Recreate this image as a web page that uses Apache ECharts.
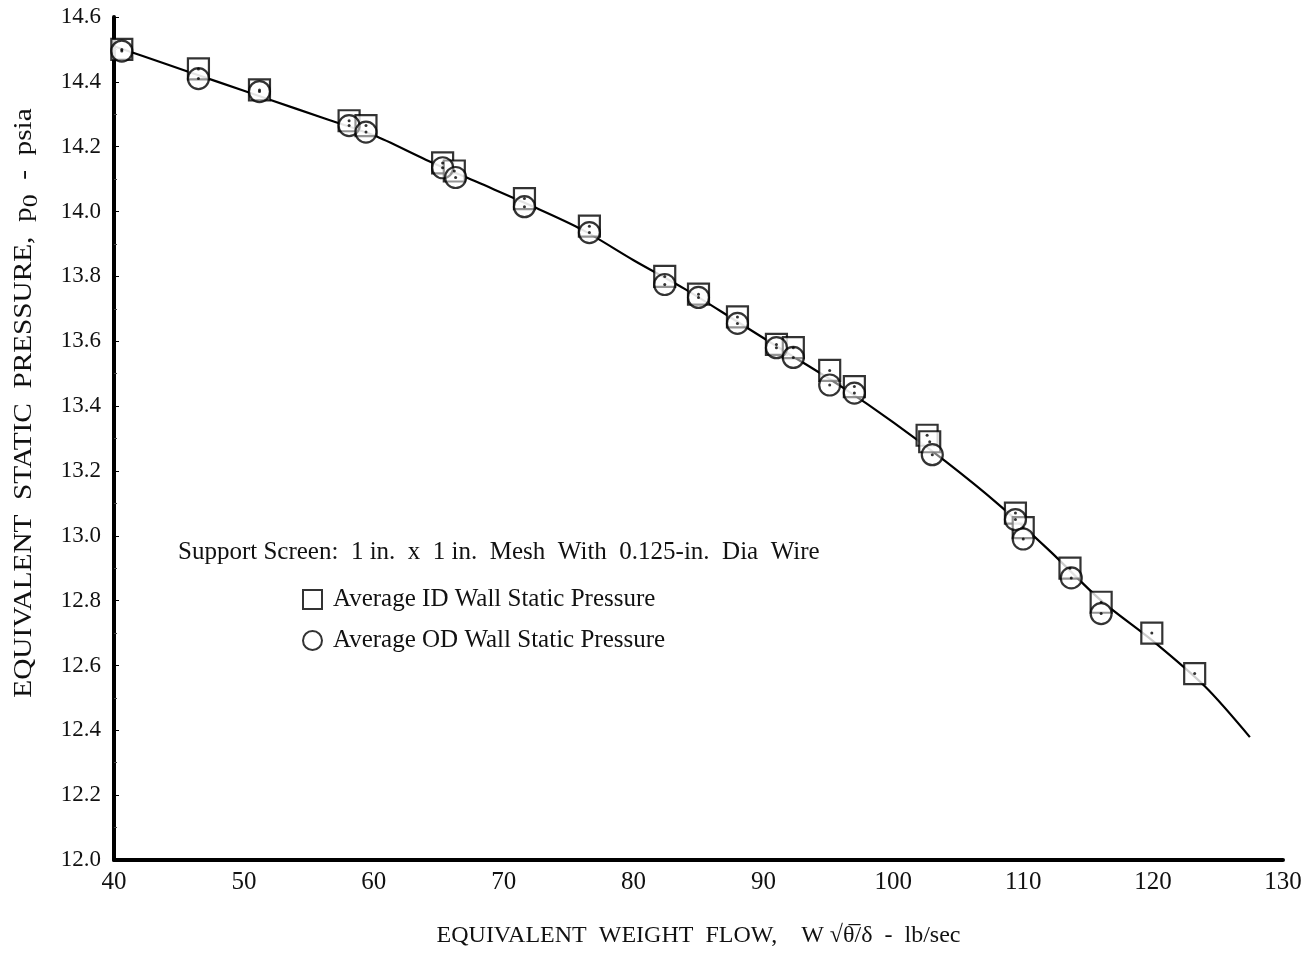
<!DOCTYPE html>
<html>
<head>
<meta charset="utf-8">
<script src="https://cdn.jsdelivr.net/npm/echarts@6/dist/echarts.min.js"></script>
<style>
  html, body { margin: 0; padding: 0; background: #fff; }
  #chart { width: 1310px; height: 954px; }
</style>
</head>
<body>
<div id="chart"></div>
<script>
// Equivalent weight flow (lb/sec) for each test point
const flowID = [40.6, 46.5, 51.2, 58.1, 59.4, 65.3, 66.2, 71.6, 76.6, 82.4, 85.0, 88.0, 91.0, 92.3, 95.1, 97.0, 102.6, 102.8, 109.4, 110.0, 113.6, 116.0, 119.9, 123.2];
// Average ID wall static pressure (psia)
const pressID = [14.50, 14.44, 14.375, 14.28, 14.265, 14.15, 14.125, 14.04, 13.955, 13.80, 13.745, 13.675, 13.59, 13.58, 13.51, 13.46, 13.31, 13.29, 13.07, 13.025, 12.90, 12.795, 12.70, 12.575];

const flowOD = [40.6, 46.5, 51.2, 58.1, 59.4, 65.3, 66.3, 71.6, 76.6, 82.4, 85.0, 88.0, 91.0, 92.3, 95.1, 97.0, 103.0, 109.4, 110.0, 113.7, 116.0];
// Average OD wall static pressure (psia)
const pressOD = [14.495, 14.41, 14.37, 14.265, 14.245, 14.135, 14.105, 14.015, 13.935, 13.775, 13.735, 13.655, 13.58, 13.55, 13.465, 13.44, 13.25, 13.05, 12.99, 12.87, 12.76];

// Faired curve through the data, read every 4 lb/sec
const curveFlow = [40, 44, 48, 52, 56, 60, 64, 68, 72, 76, 80, 84, 88, 92, 96, 100, 104, 108, 112, 116, 120, 124, 127.45];
const curvePress = [14.51, 14.455, 14.40, 14.345, 14.29, 14.235, 14.16, 14.09, 14.02, 13.945, 13.85, 13.76, 13.66, 13.56, 13.46, 13.35, 13.23, 13.10, 12.955, 12.80, 12.675, 12.535, 12.379];

const xTicks = [40, 50, 60, 70, 80, 90, 100, 110, 120, 130];
const yTicks = [12.0, 12.2, 12.4, 12.6, 12.8, 13.0, 13.2, 13.4, 13.6, 13.8, 14.0, 14.2, 14.4, 14.6];

const legendTitle = 'Support Screen:  1 in.  x  1 in.  Mesh  With  0.125-in.  Dia  Wire';
const nameID = 'Average ID Wall Static Pressure';
const nameOD = 'Average OD Wall Static Pressure';

const FONT = '"Liberation Serif", "DejaVu Serif", serif';

const zip = (a, b) => a.map((v, i) => [v, b[i]]);

const chart = echarts.init(document.getElementById('chart'), null, { renderer: 'canvas' });

chart.setOption({
  backgroundColor: '#ffffff',
  animation: false,
  textStyle: { fontFamily: FONT, color: '#111' },
  grid: { left: 114, right: 27, top: 17, bottom: 94, containLabel: false },
  xAxis: {
    type: 'value',
    min: xTicks[0],
    max: xTicks[xTicks.length - 1],
    interval: 10,
    axisLine: { show: true, lineStyle: { color: '#000', width: 4 } },
    axisTick: { show: false },
    splitLine: { show: false },
    axisLabel: { fontFamily: FONT, fontSize: 25, color: '#111', margin: 10 },
    name: 'EQUIVALENT  WEIGHT  FLOW,    W \u221A\u03B8\u0305/\u03B4  -  lb/sec',
    nameLocation: 'middle',
    nameGap: 64,
    nameTextStyle: { fontFamily: FONT, fontSize: 24, color: '#111' }
  },
  yAxis: {
    type: 'value',
    min: yTicks[0],
    max: yTicks[yTicks.length - 1],
    interval: 0.2,
    axisLine: { show: true, lineStyle: { color: '#000', width: 4 } },
    axisTick: { show: true, inside: true, length: 5, lineStyle: { color: '#000', width: 1 } },
    minorTick: { show: true, splitNumber: 2, length: 3, lineStyle: { color: '#444', width: 1 } },
    splitLine: { show: false },
    axisLabel: {
      fontFamily: FONT, fontSize: 23, color: '#111', margin: 13,
      formatter: v => v.toFixed(1)
    }
  },
  graphic: [
    {
      type: 'text',
      x: 24, y: 403,
      rotation: Math.PI / 2,
      scaleX: 1.17,
      style: {
        text: 'EQUIVALENT  STATIC  PRESSURE,  p{s|0}  -  psia',
        rich: { s: { fontSize: 22, fontFamily: FONT, padding: [14, 0, 0, 0] } },
        fontFamily: FONT, fontSize: 25, fill: '#111',
        textAlign: 'center', textVerticalAlign: 'middle'
      }
    },
    {
      type: 'text',
      left: 178, top: 540,
      style: { text: legendTitle, fontFamily: FONT, fontSize: 25, fill: '#111' }
    }
  ],
  legend: {
    orient: 'vertical',
    left: 297, top: 582,
    itemWidth: 19, itemHeight: 19,
    itemGap: 16,
    textStyle: { fontFamily: FONT, fontSize: 25, color: '#111', padding: [0, 0, 0, 6] },
    data: [
      { name: nameID, icon: 'rect' },
      { name: nameOD, icon: 'circle' }
    ]
  },
  series: [
    {
      name: 'curve',
      type: 'line',
      data: zip(curveFlow, curvePress),
      smooth: 0.3,
      showSymbol: false,
      lineStyle: { color: '#000', width: 2.2 },
      silent: true,
      z: 1
    },
    {
      name: nameID,
      type: 'scatter',
      symbol: 'rect',
      symbolSize: 21,
      data: zip(flowID, pressID),
      itemStyle: { color: '#fff', borderColor: '#000', borderWidth: 2.2 },
      z: 3
    },
    {
      name: nameOD,
      type: 'scatter',
      symbol: 'circle',
      symbolSize: 21,
      data: zip(flowOD, pressOD),
      itemStyle: { color: 'rgba(255,255,255,0.6)', borderColor: '#000', borderWidth: 2.2 },
      z: 4
    },
    {
      name: 'ID centre',
      type: 'scatter',
      symbol: 'circle',
      symbolSize: 3,
      data: zip(flowID, pressID),
      itemStyle: { color: '#000' },
      silent: true,
      z: 5
    },
    {
      name: 'OD centre',
      type: 'scatter',
      symbol: 'circle',
      symbolSize: 3,
      data: zip(flowOD, pressOD),
      itemStyle: { color: '#000' },
      silent: true,
      z: 5
    }
  ]
});
</script>
</body>
</html>
